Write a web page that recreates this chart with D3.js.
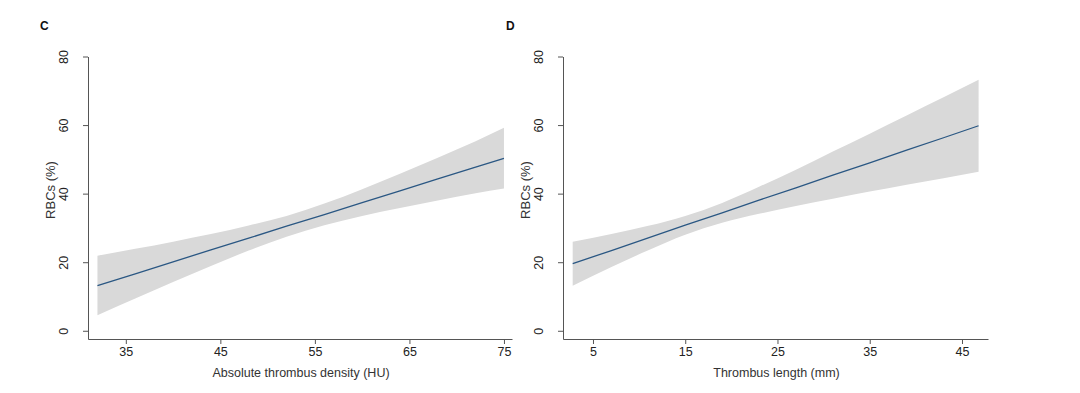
<!DOCTYPE html>
<html>
<head>
<meta charset="utf-8">
<script src="https://cdn.jsdelivr.net/npm/d3@7"></script>
<style>
  body { margin: 0; background: #fff; }
  svg { display: block; font-family: "Liberation Sans", Arial, sans-serif; }
</style>
</head>
<body>
<svg width="1080" height="393"></svg>
<script>
var width = 1080,
    height = 393;

// panel C: absolute thrombus density (HU) vs RBCs (%)
var densityX     = [32, 36, 40, 44, 48, 52, 56, 60, 64, 68, 72, 75];
var densityFit   = [13.2, 16.6, 20.1, 23.6, 27.0, 30.5, 33.9, 37.4, 40.8, 44.3, 47.7, 50.3];
var densityLower = [4.5, 9.4, 14.2, 18.9, 23.4, 27.4, 30.8, 33.5, 35.8, 38.0, 40.1, 41.5];
var densityUpper = [21.9, 23.9, 26.0, 28.2, 30.7, 33.5, 37.1, 41.3, 45.8, 50.5, 55.3, 59.2];
var densityTicks = [35, 45, 55, 65, 75];

// panel D: thrombus length (mm) vs RBCs (%)
var lengthX     = [2.8, 7, 11, 15, 19, 23, 27, 31, 35, 39, 43, 46.8];
var lengthFit   = [19.6, 23.4, 27.1, 30.8, 34.4, 38.1, 41.7, 45.4, 49.0, 52.7, 56.3, 59.8];
var lengthLower = [13.1, 18.6, 23.5, 28.0, 31.5, 34.1, 36.4, 38.5, 40.6, 42.6, 44.5, 46.4];
var lengthUpper = [26.0, 28.2, 30.6, 33.5, 37.3, 42.0, 47.0, 52.3, 57.5, 62.8, 68.1, 73.2];
var lengthTicks = [5, 15, 25, 35, 45];

var rbcTicks = [0, 20, 40, 60, 80];

var svg = d3.select("svg");

var panels = [
    {
        letter: "C", letterX: 40,
        xs: densityX, fit: densityFit, lower: densityLower, upper: densityUpper,
        xTicks: densityTicks, xDomain: [31, 75.85], xRange: [88, 512],
        xLabel: "Absolute thrombus density (HU)"
    },
    {
        letter: "D", letterX: 506,
        xs: lengthX, fit: lengthFit, lower: lengthLower, upper: lengthUpper,
        xTicks: lengthTicks, xDomain: [1.75, 47.82], xRange: [563, 988],
        xLabel: "Thrombus length (mm)"
    }
];

panels.forEach(function (p) {
    var x = d3.scaleLinear().domain(p.xDomain).range(p.xRange);
    var y = d3.scaleLinear().domain([-2.4, 80]).range([339, 56.5]);
    var g = svg.append("g");

    var rows = p.xs.map(function (v, i) {
        return { x: v, fit: p.fit[i], lo: p.lower[i], hi: p.upper[i] };
    });

    // confidence band
    g.append("path")
        .datum(rows)
        .attr("fill", "#d9d9d9")
        .attr("d", d3.area()
            .x(function (d) { return x(d.x); })
            .y0(function (d) { return y(d.lo); })
            .y1(function (d) { return y(d.hi); })
            .curve(d3.curveMonotoneX));

    // fitted line
    g.append("path")
        .datum(rows)
        .attr("fill", "none")
        .attr("stroke", "#2a5783")
        .attr("stroke-width", 1.3)
        .attr("d", d3.line()
            .x(function (d) { return x(d.x); })
            .y(function (d) { return y(d.fit); }));

    // x axis
    var gx = g.append("g")
        .attr("transform", "translate(0,339)")
        .call(d3.axisBottom(x).tickValues(p.xTicks).tickSize(5).tickSizeOuter(0));
    gx.selectAll("text").attr("font-size", 12.5).attr("fill", "#222").attr("font-family", null);

    // y axis, labels turned like the original
    var gy = g.append("g")
        .attr("transform", "translate(" + p.xRange[0] + ",0)")
        .call(d3.axisLeft(y).tickValues(rbcTicks).tickSize(5).tickSizeOuter(0));
    gy.selectAll(".tick text")
        .attr("font-size", 12.5)
        .attr("fill", "#222")
        .attr("font-family", null)
        .attr("text-anchor", "middle")
        .attr("dy", null)
        .attr("x", 0)
        .attr("y", -20)
        .attr("transform", "rotate(-90)");

    [gx, gy].forEach(function (a) {
        a.selectAll("path, line").attr("stroke", "#555");
    });

    // axis titles
    g.append("text")
        .attr("x", (p.xRange[0] + p.xRange[1]) / 2 + 1)
        .attr("y", 377)
        .attr("text-anchor", "middle")
        .attr("font-size", 12.5)
        .attr("fill", "#333")
        .text(p.xLabel);

    g.append("text")
        .attr("transform", "translate(" + (p.xRange[0] - 33) + ",190) rotate(-90)")
        .attr("text-anchor", "middle")
        .attr("font-size", 13)
        .attr("fill", "#333")
        .text("RBCs (%)");

    // panel letter
    g.append("text")
        .attr("x", p.letterX)
        .attr("y", 30)
        .attr("font-size", 12)
        .attr("font-weight", "bold")
        .attr("fill", "#111")
        .text(p.letter);
});
</script>
</body>
</html>
